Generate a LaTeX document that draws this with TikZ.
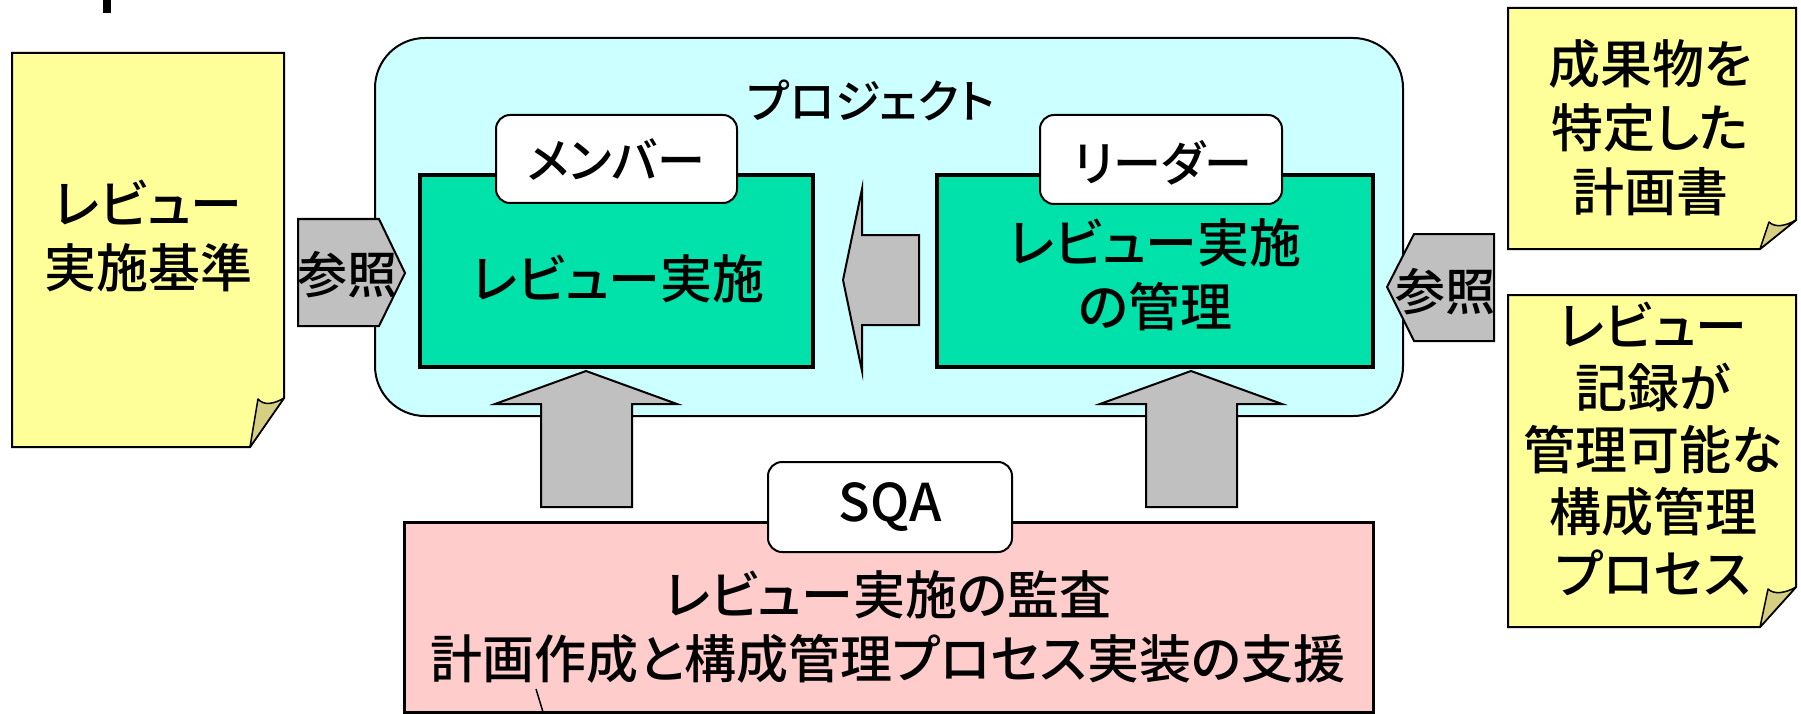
\documentclass[tikz,border=0pt]{standalone}
\usepackage{fontspec}
\setmainfont{Noto Sans CJK JP}[UprightFont={* Medium}, RawFeature={+palt}]
\definecolor{noteY}{RGB}{255,255,153}
\definecolor{foldY}{RGB}{214,206,128}
\definecolor{cyanC}{RGB}{204,255,255}
\definecolor{greenC}{RGB}{0,226,170}
\definecolor{pinkC}{RGB}{255,204,204}
\definecolor{arrowG}{RGB}{192,192,192}
\tikzset{
  note/.style={fill=noteY, draw=black, line width=2pt, line join=miter},
  fold/.style={fill=foldY, draw=black, line width=1.5pt, line join=round},
  blockarrow/.style={fill=arrowG, draw=black, line width=2pt, line join=miter},
  greenbox/.style={fill=greenC, draw=black, line width=4pt},
  tagbox/.style={fill=white, draw=black, line width=2pt, rounded corners=14pt},
  txt/.style={font=\fontsize{52}{64}\selectfont, align=center, inner sep=0pt, text=black},
}
\begin{document}
\begin{tikzpicture}[x=1pt,y=-1pt]
\useasboundingbox (0,0) rectangle (1801,714);
% cropped mark at top
\fill[black] (103,0) rectangle (111,13);
% left note
\draw[note] (12,53) -- (284,53) -- (284,398) -- (250,447) -- (12,447) -- cycle;
\draw[fold] (250,447) -- (258,399) .. controls (264,406) and (274,404) .. (284,398) -- cycle;
\node[txt] (std) at (148,236) {レビュー\\実施基準};
% project box
\draw[fill=cyanC, draw=black, line width=2pt, rounded corners=50pt] (375,38) rectangle (1403,416);
\node[txt, font=\fontsize{46}{56}\selectfont] (proj) at (871,100) {プロジェクト};
% green boxes
\draw[greenbox] (420,175) rectangle (813,367);
\draw[greenbox] (937,175) rectangle (1373,367);
\draw[tagbox] (496,115) rectangle (737,203);
\draw[tagbox] (1040,115) rectangle (1282,204);
\node[txt, font=\fontsize{48}{58}\selectfont] (mem) at (616,160) {メンバー};
\node[txt, font=\fontsize{48}{58}\selectfont] (lead) at (1163,163) {リーダー};
\node[txt] (rev) at (618,279) {レビュー実施};
\node[txt] (mgmt) at (1155,275) {レビュー実施\\の管理};
% left reference arrow
\draw[blockarrow] (298,219) -- (379,219) -- (405,273) -- (379,326) -- (298,326) -- cycle;
\node[txt, font=\fontsize{50}{60}\selectfont] (refL) at (347,275) {参照};
% right reference arrow
\draw[blockarrow] (1494,234) -- (1414,234) -- (1387,287) -- (1414,341) -- (1494,341) -- cycle;
\node[txt, font=\fontsize{50}{60}\selectfont] (refR) at (1445,292) {参照};
% middle arrow
\draw[blockarrow] (843,280) -- (862,189) -- (862,235) -- (919,235) -- (919,325) -- (862,325) -- (862,371) -- cycle;
% up arrows
\draw[blockarrow] (586,371) -- (677,404) -- (632,404) -- (632,507) -- (541,507) -- (541,404) -- (495,404) -- cycle;
\draw[blockarrow] (1191,371) -- (1282,404) -- (1237,404) -- (1237,507) -- (1146,507) -- (1146,404) -- (1100,404) -- cycle;
% SQA box
\draw[fill=pinkC, draw=black, line width=3pt] (404,522) rectangle (1373,712);
\draw[line width=1.5pt] (536,689) -- (543,712);
\draw[tagbox] (768,462) rectangle (1012,552);
\node[txt, font=\fontsize{52}{60}\selectfont] (sqa) at (890,507) {SQA};
\node[txt] (aud) at (888,627) {レビュー実施の監査\\計画作成と構成管理プロセス実装の支援};
% right notes
\draw[note] (1508,8) -- (1796,8) -- (1796,220) -- (1760,249) -- (1508,249) -- cycle;
\draw[fold] (1760,249) -- (1769,222) .. controls (1775,228) and (1786,226) .. (1796,220) -- cycle;
\node[txt] (plan) at (1650,128) {成果物を\\特定した\\計画書};
\draw[note] (1508,295) -- (1796,295) -- (1796,587) -- (1760,627) -- (1508,627) -- cycle;
\draw[fold] (1760,627) -- (1768,589) .. controls (1774,595) and (1786,593) .. (1796,587) -- cycle;
\node[txt, font=\fontsize{52}{62}\selectfont] (cm) at (1653,449) {レビュー\\記録が\\管理可能な\\構成管理\\プロセス};
\end{tikzpicture}
\end{document}
